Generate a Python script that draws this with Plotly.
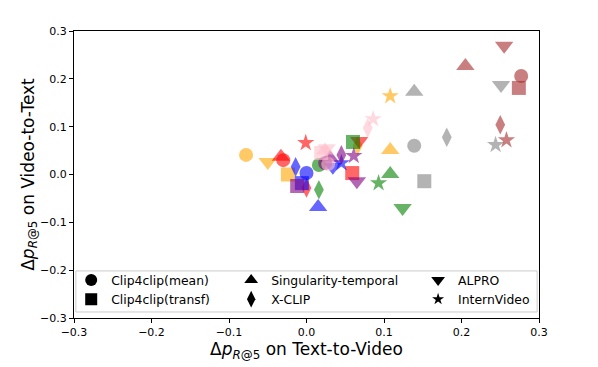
import plotly.graph_objects as go

models = ["Clip4clip(mean)", "Clip4clip(transf)", "Singularity-temporal", "X-CLIP", "ALPRO", "InternVideo"]
symbols = ["circle", "square", "triangle-up", "diamond-tall", "triangle-down", "star"]
sizes = [14, 14, 16, 14, 16, 13]
legend_sizes = [12, 12, 12, 12, 12, 9]

colors = ["orange", "red", "blue", "green", "purple", "pink", "gray", "brown"]

# per-color series: x (Text-to-Video), y (Video-to-Text), order = models
x_orange = [-0.078, -0.024, 0.108, 0.066, -0.050, 0.108]
y_orange = [0.041, 0.000, 0.051, 0.060, 0.026, 0.164]
x_red = [-0.030, 0.059, -0.033, 0.000, 0.068, -0.001]
y_red = [0.030, 0.003, 0.037, -0.028, 0.070, 0.066]
x_blue = [0.000, -0.006, 0.015, -0.014, 0.034, 0.045]
y_blue = [0.003, -0.018, -0.068, 0.016, 0.016, 0.024]
x_green = [0.016, 0.060, 0.108, 0.016, 0.124, 0.093]
y_green = [0.020, 0.068, 0.001, -0.032, -0.070, -0.018]
x_purple = [0.024, -0.012, 0.030, 0.045, 0.065, 0.061]
y_purple = [0.024, -0.024, 0.035, 0.041, -0.014, 0.039]
x_pink = [0.028, 0.019, 0.024, 0.079, 0.026, 0.086]
y_pink = [0.022, 0.045, 0.050, 0.097, 0.055, 0.116]
x_gray = [0.139, 0.152, 0.139, 0.181, 0.251, 0.244]
y_gray = [0.060, -0.014, 0.173, 0.078, 0.187, 0.062]
x_brown = [0.277, 0.274, 0.205, 0.250, 0.255, 0.258]
y_brown = [0.206, 0.181, 0.227, 0.104, 0.269, 0.072]

xs = [x_orange, x_red, x_blue, x_green, x_purple, x_pink, x_gray, x_brown]
ys = [y_orange, y_red, y_blue, y_green, y_purple, y_pink, y_gray, y_brown]

tick_vals = [-0.3, -0.2, -0.1, 0.0, 0.1, 0.2, 0.3]
tick_text = ["\u22120.3", "\u22120.2", "\u22120.1", "0.0", "0.1", "0.2", "0.3"]

FONT = "DejaVu Sans"
fig = go.Figure()

for c, xv, yv in zip(colors, xs, ys):
    fig.add_trace(go.Scatter(
        x=xv, y=yv, mode="markers", showlegend=False,
        marker=dict(color=c, symbol=symbols, size=sizes, opacity=0.6, line=dict(width=0)),
        hoverinfo="x+y",
    ))

legend_ids = ["legend", "legend", "legend2", "legend2", "legend3", "legend3"]
for m, s, ls, lid in zip(models, symbols, legend_sizes, legend_ids):
    fig.add_trace(go.Scatter(
        x=[None], y=[None], mode="markers", name=m, legend=lid,
        marker=dict(color="black", symbol=s, size=ls),
    ))

leg_common = dict(
    y=0.183, yanchor="top", xanchor="left",
    bgcolor="rgba(0,0,0,0)", borderwidth=0,
    font=dict(family=FONT, size=12.4, color="black"),
    itemsizing="trace", tracegroupgap=0,
)
ax_common = dict(
    range=[-0.3, 0.3], tickvals=tick_vals, ticktext=tick_text,
    showgrid=False, zeroline=False, showline=True, linecolor="black", linewidth=1,
    mirror=True, ticks="outside", ticklen=4, tickcolor="black", automargin=False,
    tickfont=dict(family=FONT, size=11, color="black"),
)

fig.update_layout(
    width=590, height=359,
    margin=dict(l=66, r=59, t=23, b=49, autoexpand=False),
    plot_bgcolor="white", paper_bgcolor="white",
    xaxis=dict(**ax_common, title=dict(text="\u0394<i>p</i><sub><i>R</i>@5</sub> on Text-to-Video",
                                        font=dict(family=FONT, size=17, color="black"), standoff=0)),
    yaxis=dict(**ax_common, title=dict(text="\u0394<i>p</i><sub><i>R</i>@5</sub> on Video-to-Text",
                                        font=dict(family=FONT, size=17, color="black"), standoff=0)),
    legend=dict(x=-0.006, **leg_common),
    legend2=dict(x=0.338, **leg_common),
    legend3=dict(x=0.740, **leg_common),
    shapes=[dict(type="rect", xref="paper", yref="paper", x0=0.004, x1=0.996, y0=0.021, y1=0.164,
                 line=dict(color="#cccccc", width=1), fillcolor="rgba(255,255,255,0.8)", layer="below")],
)

fig.write_html("out.html")
